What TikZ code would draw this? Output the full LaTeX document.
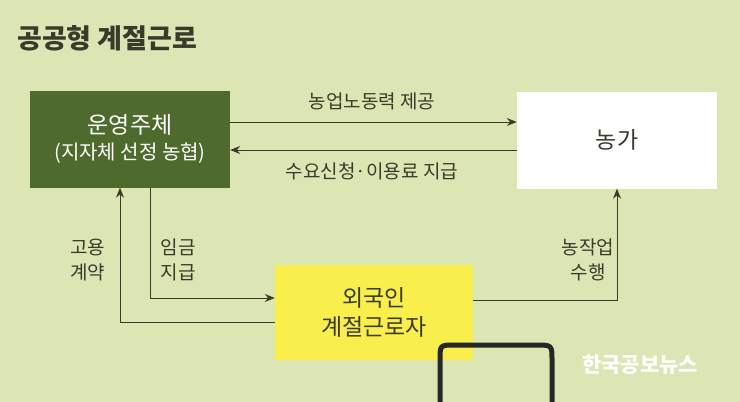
\documentclass[tikz,border=0pt]{standalone}
\usepackage{fontspec}
\setmainfont{Noto Sans CJK KR}
\usetikzlibrary{arrows.meta}
\definecolor{bg}{HTML}{DCE6B4}
\definecolor{dg}{HTML}{4E6A2C}
\definecolor{yl}{HTML}{F8EE4C}
\definecolor{tx}{HTML}{3A3A2A}
\begin{document}
\begin{tikzpicture}[x=1pt,y=-1pt,
  box/.style={draw=none,minimum width=200pt,minimum height=97pt,align=center,font=\fontsize{23}{29}\selectfont},
  lbl/.style={text=tx,font=\fontsize{19}{25}\selectfont,align=center},
  arr/.style={draw=tx,line width=1pt,-{Stealth[length=10pt,width=8pt]}}]
\fill[bg] (0,0) rectangle (740,402);
\useasboundingbox (0,0) rectangle (740,402);
\node[anchor=west,text=tx,font=\fontsize{27}{30}\selectfont\bfseries,inner sep=0pt] (title) at (17,38) {공공형 계절근로};
\node[box,fill=dg,text=white] (op) at (130,139) {운영주체\\[-3pt]{\fontsize{20}{25}\selectfont(지자체 선정 농협)}};
\node[box,fill=white,text=tx] (farm) at (617,140) {농가};
\node[box,fill=yl,text=tx,minimum width=198pt,minimum height=95pt] (wk) at (374,312) {외국인\\계절근로자};
\draw[arr] (op.east|-0,122) -- (farm.west|-0,122);
\draw[arr] (farm.west|-0,150) -- (op.east|-0,150);
\node[lbl] (l1) at (372,101) {농업노동력 제공};
\node[lbl] (l2) at (372,171) {수요신청·이용료 지급};
\coordinate (c1) at (120,322);
\draw[arr] (wk.west|-0,322) -- (c1) -- (op.south-|c1);
\draw[arr] (150,188) -- (150,298) -- (wk.west|-0,298);
\node[lbl] (l3) at (88,260) {고용\\계약};
\node[lbl] (l4) at (178,260) {임금\\지급};
\coordinate (c2) at (617,300);
\draw[arr] (wk.east|-0,300) -- (c2) -- (farm.south-|c2);
\node[lbl] (l5) at (588,260) {농작업\\수행};
\draw[line width=5pt,black!85] (440,402) -- (440,360) .. controls (440,345) .. (455,345) -- (535,345) .. controls (552,345) .. (552,360) -- (552,402);
\node[text=white,font=\fontsize{21}{24}\selectfont\bfseries] (wm) at (640,365) {한국공보뉴스};
\end{tikzpicture}
\end{document}
